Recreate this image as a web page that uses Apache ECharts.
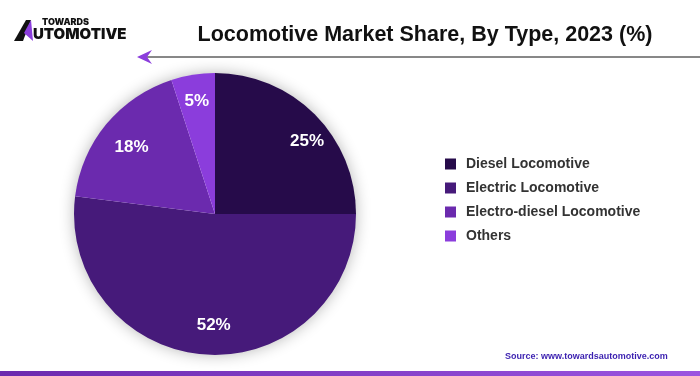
<!DOCTYPE html>
<html>
<head>
<meta charset="utf-8">
<script src="https://cdn.jsdelivr.net/npm/echarts@6/dist/echarts.min.js"></script>
<style>
  html, body { margin: 0; padding: 0; background: #fff; }
  #chart { width: 700px; height: 376px; }
</style>
</head>
<body>
<div id="chart"></div>
<script>
  // market share by type
  var types = ['Diesel Locomotive', 'Electric Locomotive', 'Electro-diesel Locomotive', 'Others'];
  var shares = [25, 52, 18, 5];
  var colors = ['#260b4a', '#461a7a', '#6b2aae', '#8b3ddc'];
  // small nudges so the labels sit where the original put them
  var labelNudge = [[10, 9], [6, -4], [6, 7], [0, 2]];

  var pieData = types.map(function (t, i) {
    return { name: t, value: shares[i], itemStyle: { color: colors[i] } };
  });
  var labelData = types.map(function (t, i) {
    return { name: t, value: shares[i], label: { offset: labelNudge[i] } };
  });

  var myChart = echarts.init(document.getElementById('chart'));
  var option = {
    animation: false,
    title: {
      text: 'Locomotive Market Share, By Type, 2023 (%)',
      left: 420,
      textAlign: 'center',
      top: 19,
      textStyle: { fontFamily: 'Liberation Sans', fontSize: 21.5, fontWeight: 'bold', color: '#111' }
    },
    legend: {
      orient: 'vertical',
      left: 440,
      top: 152,
      itemWidth: 11,
      itemHeight: 11,
      itemGap: 10,
      icon: 'rect',
      data: types.map(function (t, i) {
        return { name: t, itemStyle: { color: colors[i] } };
      }),
      textStyle: { fontFamily: 'Liberation Sans', fontSize: 14, fontWeight: 'bold', color: '#333', padding: [0, 0, 0, 5] }
    },
    graphic: [
      // pie shadow
      { type: 'circle', shape: { cx: 215, cy: 214, r: 140 }, style: { fill: '#fff', shadowBlur: 16, shadowColor: 'rgba(0,0,0,0.32)' }, z: 0 },
      // logo
      { type: 'polygon', shape: { points: [[14, 41], [26, 20], [31, 20], [23, 41]] }, style: { fill: '#111' } },
      { type: 'polygon', shape: { points: [[31, 20], [33, 41], [24, 33]] }, style: { fill: '#8b3ddc' } },
      { type: 'text', left: 42, top: 18, style: { text: 'TOWARDS', fontFamily: 'Inter', fontSize: 9, fontWeight: 900, fill: '#111' } },
      { type: 'text', left: 33, top: 27, style: { text: 'UTOMOTIVE', fontFamily: 'Inter', fontSize: 15, fontWeight: 900, fill: '#111' } },
      // line with arrow
      { type: 'line', shape: { x1: 146, y1: 57, x2: 700, y2: 57 }, style: { stroke: '#111', lineWidth: 1 } },
      { type: 'polygon', shape: { points: [[137, 57], [152, 50], [147, 57], [152, 64]] }, style: { fill: '#8b3ddc' } },
      // source
      { type: 'text', left: 505, top: 352, style: { text: 'Source: www.towardsautomotive.com', fontFamily: 'Liberation Sans', fontSize: 9, fontWeight: 'bold', fill: '#3a1fb0' } },
      // bottom bar
      { type: 'rect', shape: { x: 0, y: 371, width: 700, height: 5 }, style: { fill: new echarts.graphic.LinearGradient(0, 0, 1, 0, [{ offset: 0, color: '#6b2aae' }, { offset: 1, color: '#9b55e0' }]) } }
    ],
    series: [
      {
        name: 'share',
        type: 'pie',
        center: [215, 214],
        radius: [0, 141],
        startAngle: 90,
        clockwise: true,
        z: 2,
        label: { show: false },
        labelLine: { show: false },
        emphasis: { disabled: true },
        data: pieData
      },
      {
        name: 'labels',
        type: 'pie',
        center: [215, 214],
        radius: [0, 226],
        startAngle: 90,
        clockwise: true,
        silent: true,
        z: 3,
        itemStyle: { color: 'rgba(0,0,0,0)' },
        label: {
          show: true,
          position: 'inside',
          formatter: '{c}%',
          fontFamily: 'Liberation Sans',
          fontSize: 17,
          fontWeight: 'bold',
          color: '#fff'
        },
        labelLine: { show: false },
        emphasis: { disabled: true },
        data: labelData
      }
    ]
  };
  myChart.setOption(option);
</script>
</body>
</html>
